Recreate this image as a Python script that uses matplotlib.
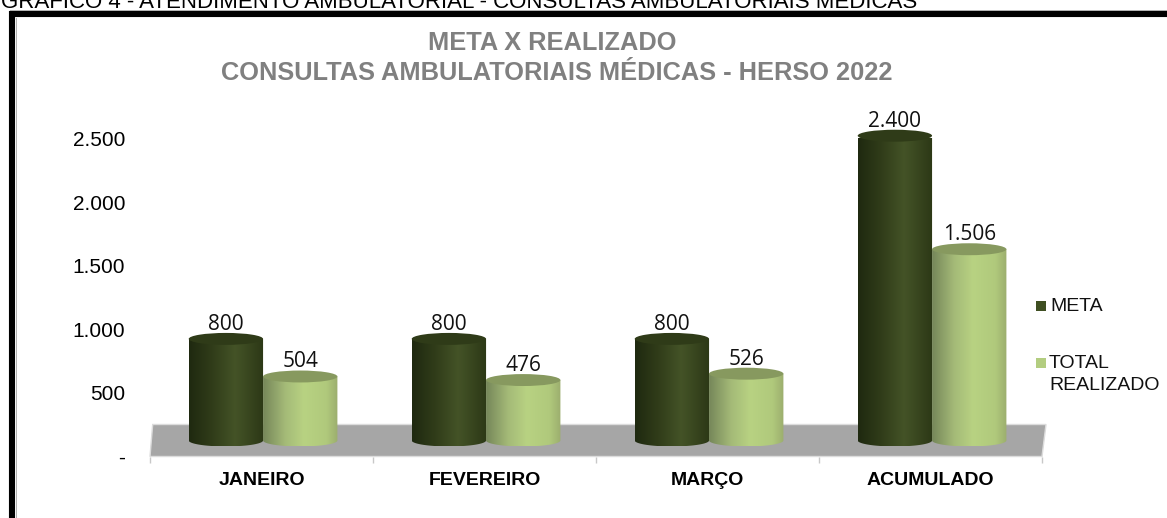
import matplotlib

matplotlib.use("Agg")
import matplotlib.pyplot as plt
import numpy as np
from matplotlib.colors import LinearSegmentedColormap
from matplotlib.lines import Line2D
from matplotlib.patches import Ellipse, Polygon, Rectangle

plt.rcParams["font.family"] = ["Liberation Sans", "DejaVu Sans"]

categories = ["JANEIRO", "FEVEREIRO", "MARÇO", "ACUMULADO"]
meta = [800, 800, 800, 2400]
realizado = [504, 476, 526, 1506]
meta_labels = ["800", "800", "800", "2.400"]
realizado_labels = ["504", "476", "526", "1.506"]
y_ticks = [0, 500, 1000, 1500, 2000, 2500]
y_tick_labels = ["-", "500", "1.000", "1.500", "2.000", "2.500"]

W, H = 1167, 518
BASE = 126  # bars stand on the grey floor, a bit above zero
BAR_W = 1 / 3
BAR_SHIFT = 0.007
CAP_H = 94

dark_cmap = LinearSegmentedColormap.from_list(
    "dark", [(0, "#1f2910"), (0.3, "#303c19"), (0.62, "#445327"), (1, "#2c3816")]
)
light_cmap = LinearSegmentedColormap.from_list(
    "light", [(0, "#76875a"), (0.3, "#a5bb78"), (0.55, "#b8d282"), (0.85, "#b0c97c"), (1, "#9cae6e")]
)


def px_axes(fig, left, top, right, bottom):
    return fig.add_axes([left / W, 1 - bottom / H, (right - left) / W, (bottom - top) / H])


def draw_cylinder(ax, x0, value, cmap, cap_color):
    x1 = x0 + BAR_W
    cx = x0 + BAR_W / 2
    top = BASE + value
    gradient = np.linspace(0, 1, 128).reshape(1, -1)
    im = ax.imshow(
        gradient,
        extent=(x0, x1, BASE - CAP_H / 2, top),
        cmap=cmap,
        aspect="auto",
        origin="lower",
        zorder=3,
    )
    # body = rectangle plus rounded bottom
    t = np.linspace(np.pi, 2 * np.pi, 40)
    bottom = np.column_stack([cx + BAR_W / 2 * np.cos(t), BASE + CAP_H / 2 * np.sin(t)])
    body = Polygon(
        np.vstack([bottom, [x1, top], [x0, top]]),
        closed=True,
        transform=ax.transData,
        facecolor="none",
        edgecolor="none",
    )
    ax.add_patch(body)
    im.set_clip_path(body)
    im.set_clip_box(None)
    ax.add_patch(Ellipse((cx, top), BAR_W, CAP_H, facecolor=cap_color, edgecolor="none",
                         zorder=4, clip_on=False))


fig = plt.figure(figsize=(W / 100, H / 100), dpi=100)
fig.patch.set_facecolor("white")

# black frame, cut by the picture edges
fig.add_artist(Rectangle((12 / W, -0.1), 1.2, 1 - 14 / H + 0.1, transform=fig.transFigure,
                         facecolor="none", edgecolor="black", linewidth=4.4, zorder=-1))
fig.add_artist(Line2D([10 / W, 1], [1 - 10.3 / H] * 2, color="#b0b0b0", linewidth=0.7, zorder=-1))
fig.add_artist(Line2D([15.6 / W] * 2, [0, 1 - 18 / H], color="#b0b0b0", linewidth=0.7, zorder=-1))

fig.text(1 / W, 1 - 7.5 / H, "GRÁFICO 4 - ATENDIMENTO AMBULATORIAL - CONSULTAS AMBULATORIAIS MÉDICAS",
         fontsize=16.07, color="black", ha="left", va="baseline")
fig.text(552.5 / W, 1 - 43 / H, "META X REALIZADO", fontsize=18.3, fontweight="bold",
         color="#808080", ha="center", va="center")
fig.text(557 / W, 1 - 73 / H, "CONSULTAS AMBULATORIAIS MÉDICAS - HERSO 2022", fontsize=18.3,
         fontweight="bold", color="#808080", ha="center", va="center")

ax = px_axes(fig, 150, 139, 1042, 456.5)
ax.set_xlim(0, 4)
ax.set_ylim(0, 2500)
ax.patch.set_alpha(0)
for side in ax.spines.values():
    side.set_visible(False)

# grey floor
ax.add_patch(Polygon([(0, 0), (0.012, 252), (4.018, 252), (4, 0)], closed=True,
                     facecolor="#a6a6a6", edgecolor="#dcdcdc", linewidth=1, zorder=1, clip_on=False))

label_font = ["Open Sans", "DejaVu Sans"]
for i in range(len(categories)):
    x0 = i + 0.5 - BAR_W + BAR_SHIFT
    x1 = i + 0.5 + BAR_SHIFT
    draw_cylinder(ax, x0, meta[i], dark_cmap, "#2f3b18")
    draw_cylinder(ax, x1, realizado[i], light_cmap, "#87995f")
    ax.text(x0 + BAR_W / 2, BASE + meta[i] + CAP_H / 2 + 24, meta_labels[i], fontsize=15,
            family=label_font, ha="center", va="baseline", color="#111111", zorder=5, clip_on=False)
    ax.text(x1 + BAR_W / 2, BASE + realizado[i] + CAP_H / 2 + 24, realizado_labels[i], fontsize=15,
            family=label_font, ha="center", va="baseline", color="#111111", zorder=5, clip_on=False)

ax.set_xlim(0, 4)
ax.set_ylim(0, 2500)
ax.set_yticks(y_ticks)
ax.set_yticklabels(y_tick_labels, fontsize=15)
ax.tick_params(axis="y", length=0, pad=18)
ax.set_xticks(range(5))
ax.set_xticklabels([])
ax.tick_params(axis="x", length=4, color="#c8c8c8", width=1)
for i, name in enumerate(categories):
    ax.annotate(name, (i + 0.5, 0), xytext=(0, -11), textcoords="offset points", fontsize=14,
                fontweight="bold", ha="center", va="top", annotation_clip=False)

# legend drawn by hand to keep the wrapped label spacing
fig.add_artist(Rectangle((1036 / W, 1 - 311 / H), 10 / W, 10 / H, transform=fig.transFigure,
                         facecolor="#3f4f22", edgecolor="none"))
fig.text(1050 / W, 1 - 306.5 / H, "META", fontsize=14, va="center", ha="left", color="#111111")
fig.add_artist(Rectangle((1036 / W, 1 - 368 / H), 10 / W, 10 / H, transform=fig.transFigure,
                         facecolor="#b3cd80", edgecolor="none"))
fig.text(1049 / W, 1 - 364 / H, "TOTAL", fontsize=14, va="center", ha="left", color="#111111")
fig.text(1049 / W, 1 - 386 / H, "REALIZADO", fontsize=14, va="center", ha="left", color="#111111")

fig.savefig("out.png", dpi=100)
